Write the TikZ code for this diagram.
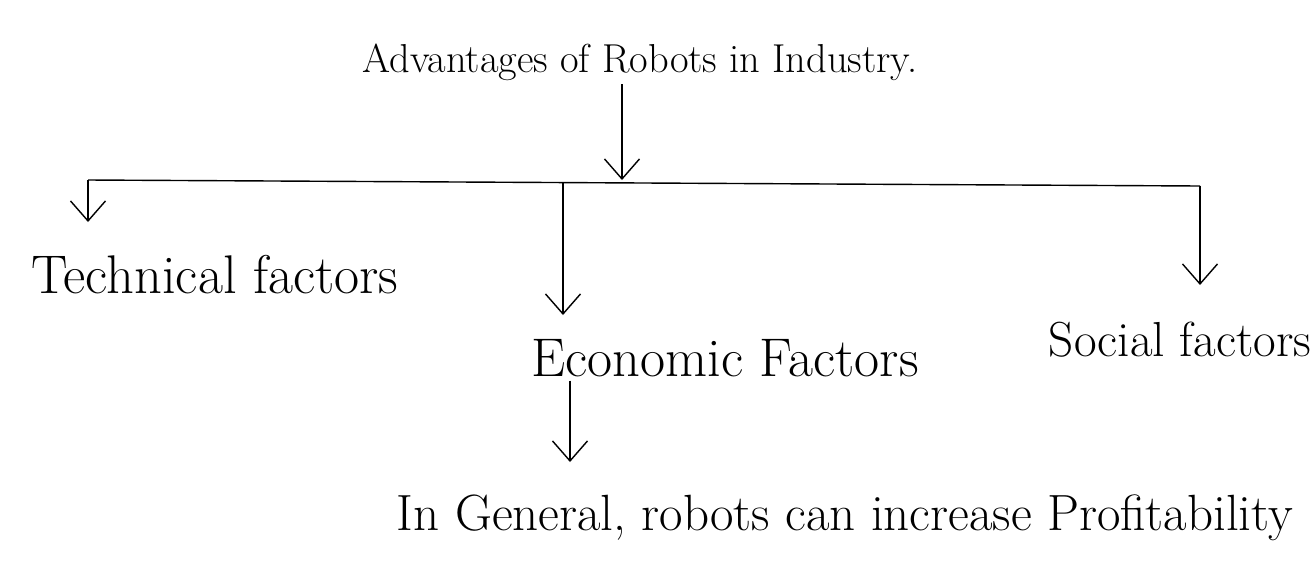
\documentclass[tikz,border=0pt]{standalone}
\usepackage{tikz}
\usetikzlibrary{arrows.meta,positioning}

\begin{document}
\begin{tikzpicture}[x=0.02cm,y=-0.02cm,
    hand/.style={font=\fontsize{31}{35}\selectfont,inner sep=2pt},
    arr/.style={thick,-{Straight Barb[length=4mm,width=7mm]}},
    bar/.style={thick}]
  \useasboundingbox (0,0) rectangle (1313,569);
  % heading and the branch line
  \node[hand,font=\fontsize{23}{27}\selectfont] (title) at (640,62)
       {Advantages of Robots in Industry.};
  \coordinate (hub) at (622,180);
  \coordinate (lft) at (88,180);
  \coordinate (mid) at (563,182);
  \coordinate (rgt) at (1200,186);
  \draw[arr] (title.south -| hub) -- (hub);
  \draw[bar] (lft) -- (rgt);
  % three groups of factors
  \node[hand] (tech) at (215,275) {Technical factors};
  \node[hand] (econ) at (725,358) {Economic Factors};
  \node[hand,font=\fontsize{28}{32}\selectfont] (social) at (1180,340) {Social factors};
  \node[hand,font=\fontsize{29}{33}\selectfont] (gen) at (845,518)
       {In General, robots can increase Profitability};
  \coordinate (techtip) at (88,222);
  \coordinate (econtip) at (563,315);
  \coordinate (soctip) at (1200,285);
  \coordinate (gentip) at (570,462);
  \draw[arr] (lft) -- (techtip);
  \draw[arr] (mid) -- (econtip);
  \draw[arr] (rgt) -- (soctip);
  \draw[arr] (econ.south -| gentip) -- (gentip);
\end{tikzpicture}
\end{document}
